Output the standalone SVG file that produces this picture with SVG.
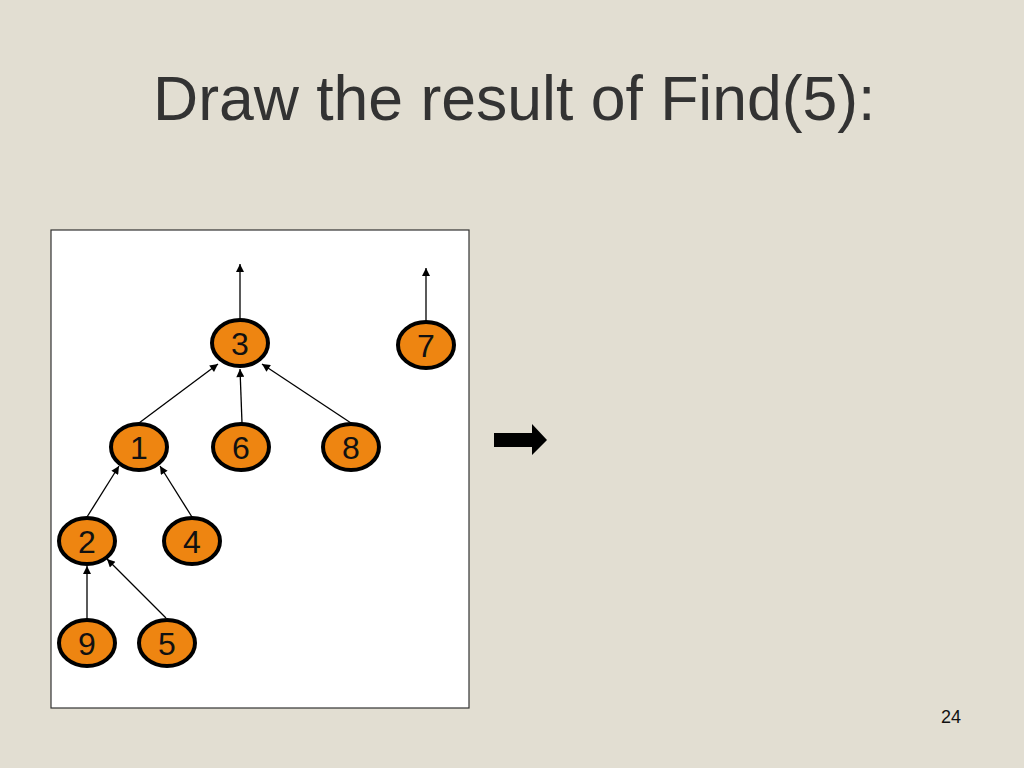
<svg xmlns="http://www.w3.org/2000/svg" width="1024" height="768" viewBox="0 0 1024 768">
<style>
.title{font-family:"Liberation Sans",Arial,sans-serif;font-size:62.5px;fill:#333333}
.node ellipse{fill:#EE8511;stroke:#000;stroke-width:4}
.node text{font-family:"Liberation Sans",Arial,sans-serif;font-size:32px;fill:#111;text-anchor:middle}
.edge{stroke:#000;stroke-width:1.3;fill:none;marker-end:url(#ah)}
.pg{font-family:"Liberation Sans",Arial,sans-serif;font-size:18px;fill:#111}
</style>
<defs>
<marker id="ah" viewBox="0 0 10 10" refX="10" refY="5" markerWidth="9" markerHeight="8" markerUnits="userSpaceOnUse" orient="auto">
<path d="M0,0 L10,5 L0,10 z" fill="#000"/>
</marker>
</defs>
<rect width="1024" height="768" fill="#E2DED2"/>
<text class="title" x="153" y="120">Draw the result of Find(5):</text>
<rect x="51" y="230" width="418" height="478" fill="#FFFFFF" stroke="#333" stroke-width="1.2"/>
<g id="connectors">
<line class="edge" x1="240" y1="319" x2="240" y2="264"/>
<line class="edge" x1="426" y1="322" x2="426" y2="268"/>
<line class="edge" x1="139" y1="423" x2="218" y2="364"/>
<line class="edge" x1="242" y1="423" x2="240" y2="369"/>
<line class="edge" x1="351" y1="423" x2="262" y2="364"/>
<line class="edge" x1="87" y1="517" x2="119" y2="466"/>
<line class="edge" x1="192" y1="517" x2="160" y2="466"/>
<line class="edge" x1="87" y1="619" x2="87" y2="566"/>
<line class="edge" x1="166" y1="618" x2="107" y2="559"/>
</g>
<g id="n3" class="node"><ellipse cx="240" cy="343" rx="28" ry="23"/><text x="240" y="355">3</text></g>
<g id="n7" class="node"><ellipse cx="426" cy="345" rx="28" ry="23"/><text x="426" y="357">7</text></g>
<g id="n1" class="node"><ellipse cx="139" cy="447" rx="28" ry="23"/><text x="139" y="459">1</text></g>
<g id="n6" class="node"><ellipse cx="241" cy="447" rx="28" ry="23"/><text x="241" y="459">6</text></g>
<g id="n8" class="node"><ellipse cx="351" cy="447" rx="28" ry="23"/><text x="351" y="459">8</text></g>
<g id="n2" class="node"><ellipse cx="87" cy="541" rx="28" ry="23"/><text x="87" y="553">2</text></g>
<g id="n4" class="node"><ellipse cx="192" cy="541" rx="28" ry="23"/><text x="192" y="553">4</text></g>
<g id="n9" class="node"><ellipse cx="87" cy="643" rx="28" ry="23"/><text x="87" y="655">9</text></g>
<g id="n5" class="node"><ellipse cx="167" cy="643" rx="28" ry="23"/><text x="167" y="655">5</text></g>
<path d="M494,433 L532,433 L532,424 L547,440 L532,455 L532,447 L494,447 z" fill="#000"/>
<text class="pg" x="941" y="723">24</text>
</svg>
